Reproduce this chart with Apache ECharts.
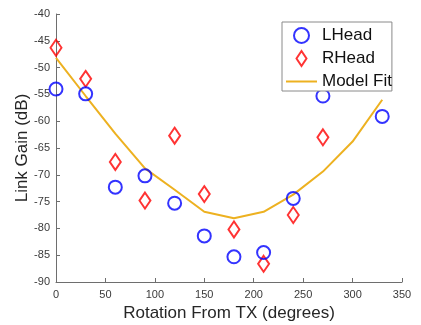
<!DOCTYPE html>
<html><head><meta charset="utf-8">
<script src="https://cdn.jsdelivr.net/npm/echarts@6/dist/echarts.min.js"></script>
<style>html,body{margin:0;padding:0;background:#fff}#c{width:421px;height:325px}</style>
</head><body><div id="c"></div>
<script>
const angles = [0,30,60,90,120,150,180,210,240,270,300,330];
const lheadX = [0,30,60,90,120,150,180,210,240,270,330];
const lheadY = [-54,-54.9,-72.3,-70.2,-75.3,-81.4,-85.3,-84.5,-74.4,-55.3,-59.1];
const rheadX = [0,30,60,90,120,150,180,210,240,270];
const rheadY = [-46.3,-52.1,-67.6,-74.8,-62.7,-73.6,-80.2,-86.6,-77.5,-63];
const fitY = [-48.2,-55.3,-62.3,-68.8,-72.8,-76.9,-78.1,-76.9,-73.7,-69.4,-63.8,-56.0];
const xTicks = [0,350,50];
const yTicks = [-90,-40,5];

const zip = (xs, ys) => xs.map((x,i)=>[x, ys[i]]);
const font = 'Liberation Sans, Arial, sans-serif';
const chart = echarts.init(document.getElementById('c'), null, {renderer:'canvas'});
chart.setOption({
  animation:false,
  backgroundColor:'#fff',
  grid:{left:56, right:19, top:14, bottom:43, containLabel:false, outerBoundsMode:'none'},
  legend:{
    orient:'vertical', left:282, top:22,
    backgroundColor:'#fff', borderColor:'#8a8a8a', borderWidth:1,
    padding:[5,0,1,3], itemWidth:31, itemHeight:15, itemGap:6,
    textStyle:{fontSize:17, color:'#111', fontFamily:font},
    data:[
      {name:'LHead', icon:'circle',
       itemStyle:{color:'rgba(255,255,255,0)', borderColor:'#0000ff', borderWidth:2}},
      {name:'RHead', icon:'path://M5,0L10,7.5L5,15L0,7.5Z',
       itemStyle:{color:'rgba(255,255,255,0)', borderColor:'#ff0000', borderWidth:2}},
      {name:'Model Fit',
       itemStyle:{color:'rgba(255,255,255,0)', borderColor:'rgba(255,255,255,0)', borderWidth:0}}
    ]
  },
  xAxis:{
    type:'value', min:xTicks[0], max:xTicks[1], interval:xTicks[2],
    name:'Rotation From TX (degrees)', nameLocation:'middle', nameGap:23, nameMoveOverlap:false,
    nameTextStyle:{fontSize:17, color:'#262626', fontFamily:font},
    axisLine:{show:true, lineStyle:{color:'#6e6e6e', width:1}},
    axisTick:{show:true, inside:true, length:4, lineStyle:{color:'#6e6e6e'}},
    axisLabel:{fontSize:11, color:'#3a3a3a', fontFamily:font, margin:7},
    splitLine:{show:false}
  },
  yAxis:{
    type:'value', min:yTicks[0], max:yTicks[1], interval:yTicks[2],
    name:'Link Gain (dB)', nameLocation:'middle', nameGap:25, nameMoveOverlap:false,
    nameTextStyle:{fontSize:17, color:'#262626', fontFamily:font},
    axisLine:{show:true, onZero:false, lineStyle:{color:'#6e6e6e', width:1}},
    axisTick:{show:true, inside:true, length:4, lineStyle:{color:'#6e6e6e'}},
    axisLabel:{fontSize:11, color:'#3a3a3a', fontFamily:font, margin:6},
    splitLine:{show:false}
  },
  series:[
    {name:'Model Fit', type:'line', data:zip(angles, fitY), symbol:'none',
     lineStyle:{color:'#EDB120', width:2}, itemStyle:{color:'#EDB120'}, z:1},
    {name:'LHead', type:'scatter', data:zip(lheadX, lheadY), symbol:'circle', symbolSize:13,
     itemStyle:{color:'rgba(255,255,255,0)', borderColor:'#0000ff', borderWidth:2}, z:3},
    {name:'RHead', type:'scatter', data:zip(rheadX, rheadY), symbol:'diamond', symbolSize:[11,16],
     symbolKeepAspect:true,
     itemStyle:{color:'rgba(255,255,255,0)', borderColor:'#ff0000', borderWidth:2}, z:2}
  ]
});
</script></body></html>
